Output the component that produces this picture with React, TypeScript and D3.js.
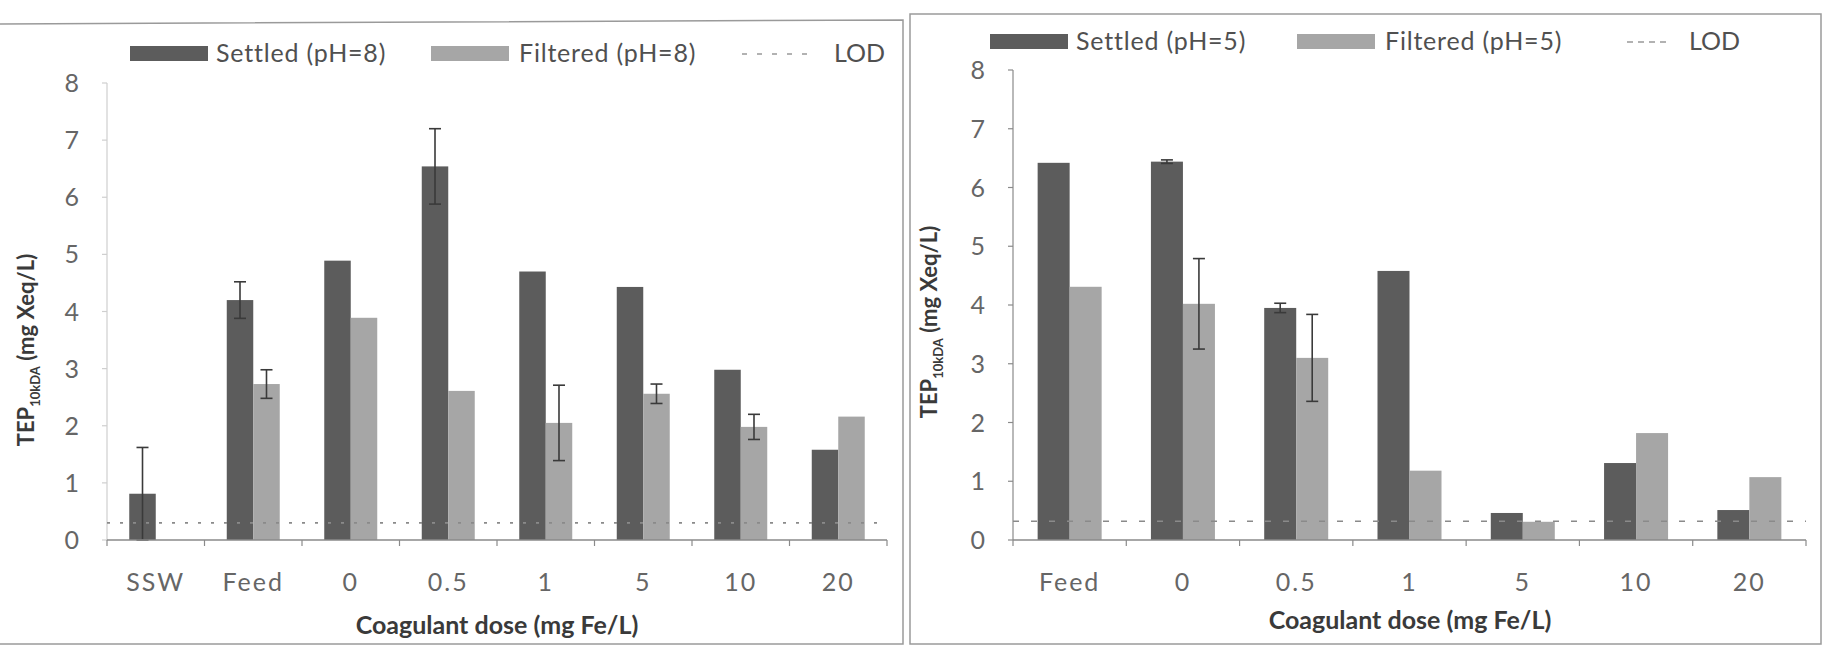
import React from 'react';
import * as d3 from 'd3';

// pH 8 panel
const leftCategories = ['SSW', 'Feed', '0', '0.5', '1', '5', '10', '20'];
const leftSettled = [0.81, 4.2, 4.89, 6.54, 4.7, 4.43, 2.98, 1.58];
const leftSettledErr = [0.81, 0.32, 0, 0.66, 0, 0, 0, 0];
const leftFiltered = [null, 2.73, 3.89, 2.61, 2.05, 2.56, 1.98, 2.16];
const leftFilteredErr = [0, 0.25, 0, 0, 0.66, 0.17, 0.22, 0];
const leftLod = 0.3;

// pH 5 panel
const rightCategories = ['Feed', '0', '0.5', '1', '5', '10', '20'];
const rightSettled = [6.42, 6.44, 3.95, 4.58, 0.46, 1.31, 0.51];
const rightSettledErr = [0, 0.03, 0.08, 0, 0, 0, 0];
const rightFiltered = [4.31, 4.02, 3.1, 1.18, 0.31, 1.82, 1.07];
const rightFilteredErr = [0, 0.77, 0.74, 0, 0, 0, 0];
const rightLod = 0.32;

const yTicks = [0, 1, 2, 3, 4, 5, 6, 7, 8];

const DARK = '#5c5c5c';
const LIGHT = '#a6a6a6';
const FONT = 'Lato, "Open Sans", sans-serif';

type PanelProps = {
  categories: string[];
  settled: (number | null)[];
  settledErr: number[];
  filtered: (number | null)[];
  filteredErr: number[];
  lod: number;
  x0: number;
  x1: number;
  yTop: number;
  yAxisColor: string;
  lodDash: string;
  groupPad: number;
  legend: { sx: number; fx: number; lx: number; y: number; settled: string; filtered: string; lodDash: string; lodW: number };
  titleX: number;
  titleY: number;
  xTitleX: number;
  xTitleY: number;
};

function Panel(p: PanelProps) {
  const y0 = 540;
  const y = d3.scaleLinear().domain([0, 8]).range([y0, p.yTop]);
  const x = d3.scaleBand().domain(p.categories).range([p.x0, p.x1]).padding(0);
  const sub = d3.scaleBand().domain(['s', 'f']).range([0, x.bandwidth()]).paddingInner(0).paddingOuter(p.groupPad);

  const bars: any[] = [];
  p.categories.forEach((c, i) => {
    [['s', p.settled[i], p.settledErr[i], DARK], ['f', p.filtered[i], p.filteredErr[i], LIGHT]].forEach(([k, v, e, col]: any) => {
      if (v == null) return;
      const bx = (x(c) as number) + (sub(k) as number);
      const w = sub.bandwidth();
      bars.push(
        <rect key={c + k} x={bx} y={y(v)} width={w} height={y0 - y(v)} fill={col} />
      );
      if (e > 0) {
        const cx = bx + w / 2;
        bars.push(
          <g key={c + k + 'e'} stroke="#3a3a3a" strokeWidth={1.6}>
            <line x1={cx} x2={cx} y1={y(v + e)} y2={y(Math.max(0, v - e))} />
            <line x1={cx - 6} x2={cx + 6} y1={y(v + e)} y2={y(v + e)} />
            <line x1={cx - 6} x2={cx + 6} y1={y(Math.max(0, v - e))} y2={y(Math.max(0, v - e))} />
          </g>
        );
      }
    });
  });

  const bounds = p.categories.map(c => x(c) as number).concat([p.x1]);
  const lg = p.legend;

  return (
    <g fontFamily={FONT}>
      {/* legend */}
      <rect x={lg.sx} y={lg.y - 8} width={78} height={15} fill={DARK} />
      <text x={lg.sx + 86} y={lg.y + 8} fontSize={25} fill="#505050" letterSpacing={0.8}>{lg.settled}</text>
      <rect x={lg.fx} y={lg.y - 8} width={78} height={15} fill={LIGHT} />
      <text x={lg.fx + 88} y={lg.y + 8} fontSize={25} fill="#505050" letterSpacing={0.8}>{lg.filtered}</text>
      <line x1={lg.lx} x2={lg.lx + lg.lodW} y1={lg.y} y2={lg.y} stroke="#999" strokeWidth={1.6} strokeDasharray={lg.lodDash} />
      <text x={lg.lx + lg.lodW + 20} y={lg.y + 8} fontSize={25} fill="#505050">LOD</text>

      {/* y axis */}
      <line x1={p.x0} x2={p.x0} y1={y(8)} y2={y0} stroke={p.yAxisColor} strokeWidth={1.2} />
      {yTicks.map(t => (
        <g key={t}>
          <line x1={p.x0 - 5} x2={p.x0} y1={y(t)} y2={y(t)} stroke={p.yAxisColor} strokeWidth={1.2} />
          <text x={p.x0 - 28} y={y(t) + 9} textAnchor="end" fontSize={25} fill="#666">{t}</text>
        </g>
      ))}

      {bars}

      {/* LOD */}
      <line x1={p.x0} x2={p.x1} y1={y(p.lod)} y2={y(p.lod)} stroke="#8a8a8a" strokeWidth={1.6} strokeDasharray={p.lodDash} />

      {/* x axis */}
      <line x1={p.x0} x2={p.x1} y1={y0} y2={y0} stroke="#8a8a8a" strokeWidth={1.4} />
      {bounds.map((b, i) => (
        <line key={i} x1={b} x2={b} y1={y0} y2={y0 + 6} stroke="#8a8a8a" strokeWidth={1.2} />
      ))}
      {p.categories.map(c => (
        <text key={c} x={(x(c) as number) + x.bandwidth() / 2} y={591} textAnchor="middle" fontSize={25} fill="#666" letterSpacing={2}>{c}</text>
      ))}

      <text x={p.xTitleX} y={p.xTitleY} textAnchor="middle" fontSize={25} fontWeight="bold" fill="#3a3a3a">Coagulant dose (mg Fe/L)</text>
      <text transform={`translate(${p.titleX},${p.titleY}) rotate(-90)`} textAnchor="middle" fontSize={22} fontWeight="bold" fill="#3a3a3a">
        TEP<tspan fontSize={13} dy={6}>10kDA</tspan><tspan dy={-6}> (mg Xeq/L)</tspan>
      </text>
    </g>
  );
}

export default function App() {
  return (
    <svg width={1825} height={648} style={{ position: 'absolute', left: 0, top: 0, background: '#fff' }}>
      <rect width={1825} height={648} fill="#fff" />
      {/* panel frames */}
      <g stroke="#9a9a9a" strokeWidth={1.5} fill="none">
        <polyline points="0,24 903,20 903,644 0,644" />
        <rect x={910} y={14} width={911} height={630} />
      </g>
      <Panel
        categories={leftCategories}
        settled={leftSettled}
        settledErr={leftSettledErr}
        filtered={leftFiltered}
        filteredErr={leftFilteredErr}
        lod={leftLod}
        x0={107}
        x1={887}
        yTop={83}
        yAxisColor="#cfcfcf"
        lodDash="3,10"
        groupPad={0.84}
        legend={{ sx: 130, fx: 431, lx: 742, y: 54, settled: 'Settled (pH=8)', filtered: 'Filtered (pH=8)', lodDash: '5,10', lodW: 72 }}
        titleX={34}
        titleY={350}
        xTitleX={497}
        xTitleY={634}
      />
      <Panel
        categories={rightCategories}
        settled={rightSettled}
        settledErr={rightSettledErr}
        filtered={rightFiltered}
        filteredErr={rightFilteredErr}
        lod={rightLod}
        x0={1013}
        x1={1806}
        yTop={70}
        yAxisColor="#8a8a8a"
        lodDash="6,12"
        groupPad={0.77}
        legend={{ sx: 990, fx: 1297, lx: 1627, y: 42, settled: 'Settled (pH=5)', filtered: 'Filtered (pH=5)', lodDash: '6,5', lodW: 42 }}
        titleX={937}
        titleY={322}
        xTitleX={1410}
        xTitleY={629}
      />
    </svg>
  );
}
